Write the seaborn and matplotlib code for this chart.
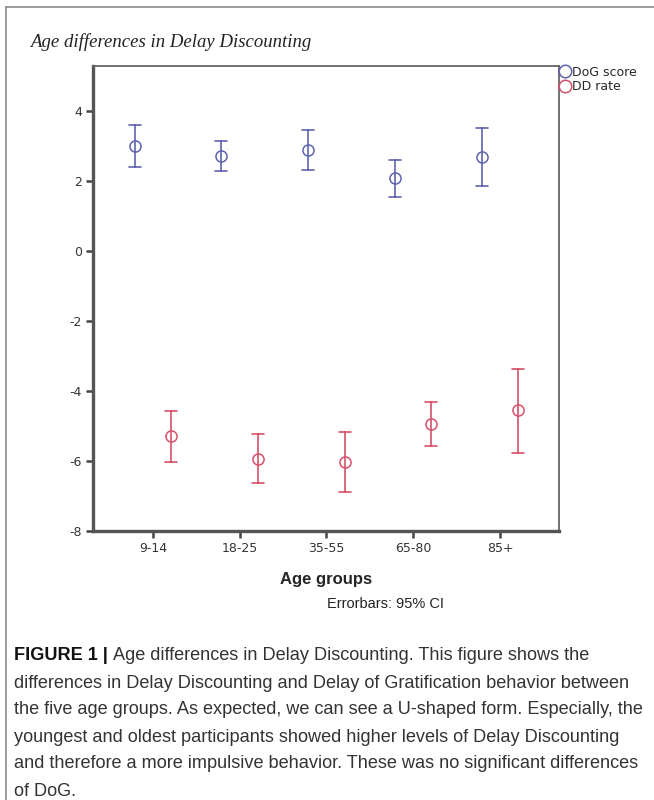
import matplotlib
matplotlib.use("Agg")
import matplotlib.pyplot as plt
from matplotlib.lines import Line2D
import numpy as np
import pandas as pd
import seaborn as sns

# values (mean and 95% CI bounds)
age_groups = ['9-14', '18-25', '35-55', '65-80', '85+']
series_names = ['DoG score', 'DD rate']
dog_mean = [3.00, 2.72, 2.89, 2.09, 2.69]
dog_lo = [2.41, 2.29, 2.31, 1.55, 1.87]
dog_hi = [3.59, 3.15, 3.47, 2.61, 3.51]
dd_mean = [-5.29, -5.94, -6.03, -4.93, -4.55]
dd_lo = [-6.02, -6.64, -6.88, -5.57, -5.76]
dd_hi = [-4.56, -5.22, -5.16, -4.30, -3.36]

colors = {'DoG score': '#5f63ad', 'DD rate': '#d8506a'}

# long table: each group holds lo / mean / hi, the median gives the mean and
# min/max give the interval
rows = []
for name, m, lo, hi in [('DoG score', dog_mean, dog_lo, dog_hi),
                        ('DD rate', dd_mean, dd_lo, dd_hi)]:
  for g, a, b, c in zip(age_groups, lo, m, hi):
    for v in (a, b, c):
      rows.append({'age': g, 'series': name, 'value': v})
df = pd.DataFrame(rows)

sns.set_style('white')
plt.rcParams['font.family'] = ['Liberation Sans', 'DejaVu Sans']

fig = plt.figure(figsize=(6.54, 8.0), dpi=100)
ax = fig.add_axes([0.1422, 0.33625, 0.7125, 0.58125])

sns.pointplot(
  data=df, x='age', y='value', hue='series', order=age_groups,
  hue_order=series_names, palette=colors, estimator='median',
  errorbar=lambda v: (v.min(), v.max()), dodge=0.42, linestyle='none',
  markers='o', markersize=8, markerfacecolor='none', markeredgewidth=1.1,
  capsize=0.14, err_kws={'linewidth': 1.2}, legend=False, ax=ax
)

ax.set_ylim(-8, 5.29)
ax.set_xlim(-0.69, 4.68)
ax.set_yticks([4, 2, 0, -2, -4, -6, -8])
ax.set_yticklabels(['4', '2', '0', '-2', '-4', '-6', '-8'])
ax.set_ylabel('')
ax.set_xlabel('Age groups', fontsize=12, fontweight='bold', labelpad=12)
ax.tick_params(axis='both', direction='out', length=5, width=1.8, color='#444444',
               labelsize=9, labelcolor='#333333', left=True, bottom=True, pad=3)
for lab in ax.get_xticklabels() + ax.get_yticklabels():
  lab.set_family('DejaVu Sans')
for side in ['left', 'bottom']:
  ax.spines[side].set_linewidth(2.4)
  ax.spines[side].set_color('#555555')
for side in ['top', 'right']:
  ax.spines[side].set_linewidth(1.3)
  ax.spines[side].set_color('#666666')

handles = [Line2D([], [], linestyle='none', marker='o', markersize=9,
                  markerfacecolor='none', markeredgecolor=colors[n], markeredgewidth=1.1)
           for n in series_names]
ax.legend(handles, series_names, loc='upper left', bbox_to_anchor=(1.002, 1.003),
          frameon=False, prop={'family': 'DejaVu Sans', 'size': 9},
          handlelength=0.6, handletextpad=0.3,
          labelspacing=0.12, borderaxespad=0.0, borderpad=0.1)

fig.text(0.046, 0.948, 'Age differences in Delay Discounting', fontsize=13.5,
         style='italic', family=['Liberation Serif', 'DejaVu Serif'], color='#222222', va='center')
fig.text(0.50, 0.245, 'Errorbars: 95% CI', fontsize=10.5, color='#222222', va='center')

# frame of the figure panel
fig.add_artist(Line2D([0.009, 0.009], [0.0, 0.991], color='#8a8a8a', linewidth=1.2))
fig.add_artist(Line2D([0.009, 1.0], [0.991, 0.991], color='#8a8a8a', linewidth=1.2))

# caption, sized so that the longest line fills the panel width
caption = [
  'differences in Delay Discounting and Delay of Gratification behavior between',
  'the five age groups. As expected, we can see a U-shaped form. Especially, the',
  'youngest and oldest participants showed higher levels of Delay Discounting',
  'and therefore a more impulsive behavior. These was no significant differences',
  'of DoG.',
]
renderer = fig.canvas.get_renderer()
probe = fig.text(0, 0, caption[1], fontsize=10)
w10 = probe.get_window_extent(renderer).width
probe.remove()
cap_size = 10 * 630 / w10

x0 = 14 / 654
y0 = 1 - 656 / 800
head = fig.text(x0, y0, 'FIGURE 1 | ', fontsize=cap_size, fontweight='bold',
                va='center', color='#111111')
hw = head.get_window_extent(renderer).width
fig.text(x0 + hw / 654, y0, 'Age differences in Delay Discounting. This figure shows the',
         fontsize=cap_size, va='center', color='#333333')
for i, line in enumerate(caption):
  fig.text(x0, y0 - (i + 1) * 27 / 800, line, fontsize=cap_size, va='center', color='#333333')

plt.savefig('out.png', dpi=100)
